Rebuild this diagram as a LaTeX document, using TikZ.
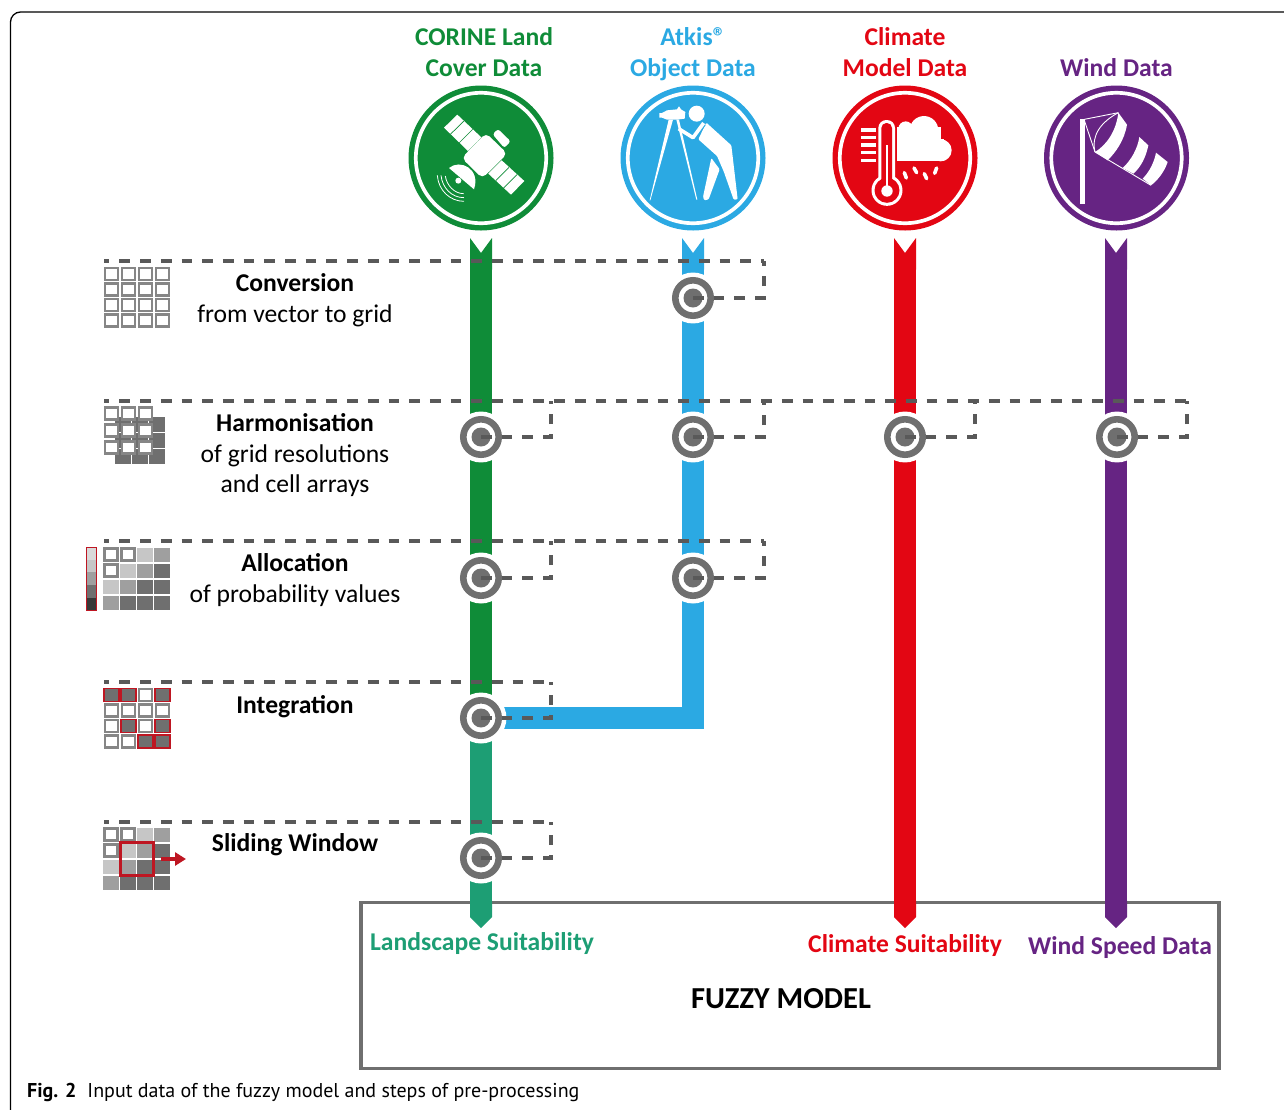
\documentclass[tikz,border=0pt]{standalone}
\usepackage{fontspec}
\setmainfont{Carlito}
\newfontfamily\capfont{PT Sans}
\usetikzlibrary{arrows.meta}
\definecolor{corinegreen}{HTML}{0F8C38}
\definecolor{atkisblue}{HTML}{2BA9E3}
\definecolor{climatered}{HTML}{E30613}
\definecolor{windpurple}{HTML}{662483}
\definecolor{landteal}{HTML}{1D9E74}
\definecolor{cellred}{HTML}{BE1622}
\definecolor{ringgrey}{HTML}{6F6F6F}
\definecolor{dashgrey}{HTML}{595959}
\tikzset{
  sourcedisc/.style={circle, fill=#1, inner sep=0pt, outer sep=0pt, minimum size=145pt,
    path picture={\draw[white, line width=3.7pt] (path picture bounding box.center) circle (65.2pt);}},
  pipe/.style={draw=#1, line width=22pt},
  notched/.style={{Triangle Cap[reversed,length=15pt,sep=-1pt]}-},
  pointed/.style={-{Triangle Cap[length=11pt]}},
  fullpipe/.style={{Triangle Cap[reversed,length=15pt,sep=-1pt]}-{Triangle Cap[length=11pt]}},
  stepring/.style={circle, draw=ringgrey, line width=6.6pt, fill=white, inner sep=0pt, outer sep=0pt, minimum size=35.4pt,
    preaction={draw=white, line width=15.5pt},
    path picture={\fill[ringgrey] (path picture bounding box.center) circle (9.5pt);}},
  stepline/.style={draw=dashgrey, line width=3.2pt, dash pattern=on 10.7pt off 10pt, dash phase=5.3pt},
  branchline/.style={draw=dashgrey, line width=3.2pt, dash pattern=on 10.7pt off 10pt},
  opencell/.style={rectangle, draw=gray!95, line width=2.4pt, fill=white, inner sep=0pt, minimum width=13pt, minimum height=11.8pt},
  shadecell/.style={rectangle, fill=#1, inner sep=0pt, minimum width=15.5pt, minimum height=14pt},
  redcell/.style={rectangle, draw=cellred, line width=1.8pt, fill=ringgrey, inner sep=0pt, minimum width=14.5pt, minimum height=13pt},
  head/.style={font=\fontsize{25.6}{31}\selectfont\bfseries, text=#1, align=center, inner sep=0pt},
  steptext/.style={font=\fontsize{25.6}{30.6}\selectfont, align=center, inner sep=0pt, anchor=north},
  result/.style={font=\fontsize{25.6}{30}\selectfont\bfseries, text=#1, inner sep=0pt},
}
\newcommand{\shadegrid}[2]{
  \foreach \c/\r in {0/0,1/0,0/1} \node (#1\c\r)[opencell] at (111+17*\c, #2+16*\r) {};
  \foreach \c/\r in {2/0,1/1,0/2} \node (#1\c\r)[shadecell=gray!45] at (111+17*\c, #2+16*\r) {};
  \foreach \c/\r in {3/0,2/1,1/2,0/3} \node (#1\c\r)[shadecell=gray!75] at (111+17*\c, #2+16*\r) {};
  \foreach \c/\r in {3/1,2/2,3/2,1/3,2/3,3/3} \node (#1\c\r)[shadecell=ringgrey] at (111+17*\c, #2+16*\r) {};
}
\begin{document}
\begin{tikzpicture}[x=1pt, y=-1pt]
\useasboundingbox (0,0) rectangle (1284,1109);
\clip (0,0) rectangle (1284,1109);
\draw[black, line width=1.3pt, rounded corners=10pt] (10.5,12) rectangle (1320,1125);

\node (corine)[sourcedisc=corinegreen] at (481,158) {};
\node (atkis)[sourcedisc=atkisblue] at (693,158) {};
\node (climate)[sourcedisc=climatered] at (905,158) {};
\node (wind)[sourcedisc=windpurple] at (1116.5,158) {};

\node (corinehead)[head=corinegreen] at (484,52.5) {CORINE Land\\Cover Data};
\node (atkishead)[head=atkisblue] at (693,54.5) {Atkis®\\Object Data};
\node (climatehead)[head=climatered] at (905,52.5) {Climate\\Model Data};
\node (windhead)[head=windpurple] at (1116.5,68) {Wind Data};

\begin{scope}[shift={(405,82)}, x=0.3333pt, y=-0.3333pt]
\fill[white, rounded corners=5pt] (243,153) -- (307,215) -- (232,289) -- (170,228) -- cycle;
\fill[white] (117,137) -- (157,98) -- (229,166) -- (189,207) -- cycle;
\fill[white] (250,275) -- (290,235) -- (358,297) -- (318,338) -- cycle;
\draw[corinegreen, line width=0.7pt] (137,156) -- (177,117) (163,182) -- (203,142);
\draw[corinegreen, line width=0.7pt] (272,296) -- (312,256) (296,318) -- (336,278);
\fill[white, rounded corners=2.5pt] (263,157) -- (279,141) -- (317,178) -- (298,198) -- cycle;
\fill[white] (132,258) .. controls (165,230) and (228,260) .. (207,322) -- cycle;
\fill[white] (160,296) circle (3pt);
\draw[white, line width=0.8pt] (97,280) .. controls (100,325) and (135,358) .. (177,358);
\draw[white, line width=0.8pt] (108,280) .. controls (112,318) and (140,347) .. (177,347);
\draw[white, line width=0.8pt] (121,282) .. controls (125,310) and (148,335) .. (176,335);
\end{scope}

\begin{scope}[shift={(617,82)}, x=0.3333pt, y=-0.3333pt]
\fill[white] (127,93) -- (135,93) -- (150,85) -- (180,82) -- (186,73) -- (192,82) -- (205,90) -- (203,110) -- (180,113) -- (150,113) -- (135,107) -- (127,107) -- cycle;
\fill[white] (155,113) -- (168,113) -- (100,355) -- (98,355) -- cycle;
\fill[white] (178,113) -- (186,113) -- (241,353) -- (238,353) -- cycle;
\fill[white] (239,95) circle (8pt);
\fill[white, rounded corners=1pt] (268,122) -- (343,190) -- (346,215) -- (362,352) -- (350,353) -- (320,268) -- (300,222) -- (244,172) -- cycle;
\fill[white, rounded corners=1pt] (283,228) -- (258,345) -- (262,355) -- (275,352) -- (308,262) -- cycle;
\draw[atkisblue, line width=5pt, line join=round] (228,167) -- (260,125);
\draw[white, line width=3.6pt, line join=round] (185,140) -- (228,167) -- (260,123);
\end{scope}

\begin{scope}[shift={(829,82)}, x=0.3333pt, y=-0.3333pt]
\fill[white] (285,145) circle (14.3pt);
\fill[white] (230,140) circle (7.3pt);
\fill[white] (335,205) circle (11pt);
\fill[white] (205,135) rectangle (335,237);
\fill[white] (335,170) rectangle (345,237);
\foreach \y in {138,161,183,206,230} \fill[white] (95,\y) rectangle (140,\y+11);
\fill[white, rounded corners=8pt] (148,114) rectangle (198,330);
\fill[white] (174,325) circle (15.5pt);
\fill[climatered, rounded corners=5pt] (157,123) rectangle (189,330);
\fill[climatered] (174,325) circle (12.5pt);
\fill[white] (170,190) rectangle (178,325);
\fill[white] (174,327) circle (5.7pt);
\draw[white, line width=3.6pt, line cap=round] (226,272) -- (232,288);
\draw[white, line width=3.6pt, line cap=round] (255,258) -- (263,272);
\draw[white, line width=3.6pt, line cap=round] (286,275) -- (293,290);
\draw[white, line width=3.6pt, line cap=round] (323,258) -- (317,274);
\end{scope}

\begin{scope}[shift={(1041,82)}, x=0.3333pt, y=-0.3333pt]
\fill[white] (117,110) rectangle (132,365);
\draw[white, line width=0.9pt] (130,112) -- (232,92);
\draw[white, line width=0.9pt] (130,115) -- (162,210);
\draw[white, line width=0.9pt] (232,92) .. controls (180,120) and (150,160) .. (162,210);
\draw[white, line width=0.9pt] (162,210) -- (330,310);
\fill[white] (232,92) -- (258,128) .. controls (250,175) and (225,210) .. (200,235) -- (162,210) .. controls (195,190) and (225,150) .. (232,92) -- cycle;
\fill[white] (295,165) -- (322,190) .. controls (315,225) and (300,255) .. (277,275) -- (245,258) .. controls (270,235) and (290,200) .. (295,165) -- cycle;
\fill[white] (345,212) -- (380,240) .. controls (370,270) and (350,295) .. (330,310) -- (305,290) .. controls (325,270) and (340,240) .. (345,212) -- cycle;
\end{scope}

\node (fuzzy)[rectangle, draw=ringgrey, line width=3.5pt, inner sep=0pt, minimum width=858pt, minimum height=166pt] at (790,985.5) {};
\node (fuzzylabel)[font=\fontsize{30.5}{31}\selectfont\bfseries, inner sep=0pt] at (781,999) {FUZZY MODEL};
\node (landlabel)[result=landteal] at (482,944) {Landscape Suitability};
\node (climatelabel)[result=climatered] at (905,946) {Climate Suitability};
\node (windlabel)[result=windpurple] at (1120,948) {Wind Speed Data};

\coordinate (corinetop) at (481,239);
\coordinate (atkistop) at (693,239);
\coordinate (climatetop) at (905,239);
\coordinate (windtop) at (1116,239);
\coordinate (landend) at (481,928);
\coordinate (climateend) at (905,928);
\coordinate (windend) at (1116,928);
\coordinate (joint) at (481,718);

\draw[pipe=corinegreen, notched] (corinetop) -- (joint);
\draw[pipe=landteal, pointed] (joint) -- (landend);
\draw[pipe=atkisblue, notched] (atkistop) |- (joint);
\draw[pipe=climatered, fullpipe] (climatetop) -- (climateend);
\draw[pipe=windpurple, fullpipe] (windtop) -- (windend);

\node (r1b)[stepring] at (693,298) {};
\node (r2a)[stepring] at (481,437) {};
\node (r2b)[stepring] at (693,437) {};
\node (r2c)[stepring] at (905,437) {};
\node (r2d)[stepring] at (1117,437) {};
\node (r3a)[stepring] at (481,578) {};
\node (r3b)[stepring] at (693,578) {};
\node (r4a)[stepring] at (joint) {};
\node (r5a)[stepring] at (481,858) {};

\coordinate (line1) at (104,261);
\coordinate (line1b) at (764,261);
\coordinate (line2) at (104,401);
\coordinate (line2a) at (551,401);
\coordinate (line2b) at (764,401);
\coordinate (line2c) at (975,401);
\coordinate (line2d) at (1187,401);
\coordinate (line3) at (104,541);
\coordinate (line3a) at (551,541);
\coordinate (line3b) at (764,541);
\coordinate (line4) at (104,682);
\coordinate (line4a) at (551,682);
\coordinate (line5) at (104,822);
\coordinate (line5a) at (551,822);

\draw[stepline] (line1) -- (line1b);
\draw[stepline] (line2) -- (line2d);
\draw[stepline] (line3) -- (line3b);
\draw[stepline] (line4) -- (line4a);
\draw[stepline] (line5) -- (line5a);
\draw[branchline] (r1b.center) -| (line1b);
\draw[branchline] (r2a.center) -| (line2a);
\draw[branchline] (r2b.center) -| (line2b);
\draw[branchline] (r2c.center) -| (line2c);
\draw[branchline] (r2d.center) -| (line2d);
\draw[branchline] (r3a.center) -| (line3a);
\draw[branchline] (r3b.center) -| (line3b);
\draw[branchline] (r4a.center) -| (line4a);
\draw[branchline] (r5a.center) -| (line5a);

\foreach \c in {0,1,2,3} \foreach \r in {0,1,2,3}
  \node (conv\c\r)[opencell] at (111.5+17*\c, 274+15.5*\r) {};

\foreach \c in {0,1,2} \foreach \r in {0,1,2}
  \node (harmfill\c\r)[shadecell=ringgrey, minimum width=16pt, minimum height=15pt] at (123+17*\c, 424+16.3*\r) {};
\foreach \c in {0,1,2} \foreach \r in {0,1,2}
  \node (harm\c\r)[opencell] at (111.5+17*\c, 413.5+17*\r) {};

\foreach \i/\s in {0/gray!30,1/gray!45,2/gray!75,3/ringgrey,4/black!78}
  \node (scale\i)[shadecell=\s, minimum width=9pt, minimum height=12.6pt] at (91.5,554+12.6*\i-0.5) {};
\node (scalebox)[rectangle, draw=cellred, line width=1.4pt, inner sep=0pt, minimum width=9.5pt, minimum height=63pt] at (91.5,579) {};
\shadegrid{alloc}{554.5}

\foreach \c/\r in {2/0,0/1,1/1,2/1,3/1,0/2,2/2,0/3,1/3}
  \node (inte\c\r)[opencell] at (111.5+17*\c, 695+15.5*\r) {};
\foreach \c/\r in {0/0,1/0,3/0,1/2,3/2,2/3,3/3}
  \node (inte\c\r)[redcell] at (111.5+17*\c, 695+15.5*\r) {};

\shadegrid{slide}{834.5}
\node (window)[rectangle, draw=cellred, line width=3.4pt, inner sep=0pt, minimum width=33pt, minimum height=33pt] at (137,859) {};
\coordinate (windowtip) at (186,859);
\draw[draw=cellred, line width=3.4pt, -{Triangle[length=11pt,width=13pt]}] ([xshift=6pt]window.east) -- (windowtip);

\node (convtext)[steptext] at (295,273.5) {\textbf{Conversion}\\from vector to grid};
\node (harmtext)[steptext] at (295,413.5) {\textbf{Harmonisation}\\of grid resolutions\\and cell arrays};
\node (alloctext)[steptext] at (295,553.5) {\textbf{Allocation}\\of probability values};
\node (intetext)[steptext] at (295,695.5) {\textbf{Integration}};
\node (slidetext)[steptext] at (295,833.5) {\textbf{Sliding Window}};

\node (caption)[anchor=base west, inner sep=0pt, font=\capfont\fontsize{20}{24}\selectfont] at (27,1097) {\textbf{Fig. 2}\hspace{11pt}Input data of the fuzzy model and steps of pre-processing};
\end{tikzpicture}
\end{document}
